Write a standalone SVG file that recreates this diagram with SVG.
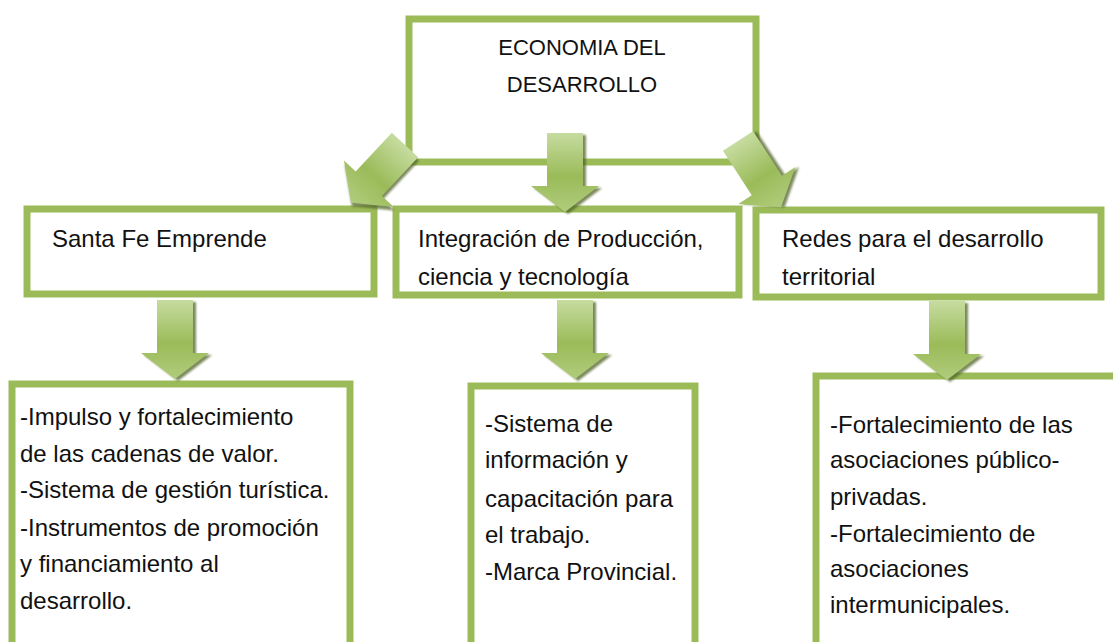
<svg xmlns="http://www.w3.org/2000/svg" width="1113" height="642" viewBox="0 0 1113 642">
  <style>
    .box { fill: #ffffff; stroke: #9bbb59; stroke-width: 7; }
    .t { font-family: "Liberation Sans", Arial, sans-serif; font-size: 24px; fill: #111111; }
    .title { font-family: "Liberation Sans", Arial, sans-serif; font-size: 22px; fill: #111111; text-anchor: middle; }
    .arrow { fill: url(#ag); }
    .shadow { fill: #4f6228; opacity: 0.75; filter: url(#blur); }
  </style>
  <defs>
    <linearGradient id="ag" x1="0" y1="0" x2="0" y2="1">
      <stop offset="0" stop-color="#c6dca0"/>
      <stop offset="0.55" stop-color="#9bbb59"/>
      <stop offset="1" stop-color="#b0cc7c"/>
    </linearGradient>
    <filter id="blur" x="-20%" y="-20%" width="140%" height="140%">
      <feGaussianBlur stdDeviation="1"/>
    </filter>
    <path id="arr" d="M-18,0 H18 V53 H34 L0,79 L-34,53 H-18 Z"/>
  </defs>

  <rect width="1113" height="642" fill="#ffffff"/>

  <g id="node-economia">
    <rect class="box" x="409" y="19" width="347" height="143"/>
    <text class="title" x="582" y="55">ECONOMIA DEL</text>
    <text class="title" x="582" y="92">DESARROLLO</text>
  </g>

  <g id="node-santafe">
    <rect class="box" x="27" y="209" width="347" height="85"/>
    <text class="t" x="52" y="247">Santa Fe Emprende</text>
  </g>

  <g id="node-integracion">
    <rect class="box" x="396" y="209" width="343" height="86"/>
    <text class="t" x="418" y="247">Integración de Producción,</text>
    <text class="t" x="418" y="285">ciencia y tecnología</text>
  </g>

  <g id="node-redes">
    <rect class="box" x="756" y="210" width="345" height="87"/>
    <text class="t" x="782" y="247">Redes para el desarrollo</text>
    <text class="t" x="782" y="285">territorial</text>
  </g>

  <g id="node-santafe-items">
    <rect class="box" x="12" y="384" width="338" height="290"/>
    <text class="t" x="20" y="425">-Impulso y fortalecimiento</text>
    <text class="t" x="20" y="462">de las cadenas de valor.</text>
    <text class="t" x="20" y="498">-Sistema de gestión turística.</text>
    <text class="t" x="20" y="536">-Instrumentos de promoción</text>
    <text class="t" x="20" y="572">y financiamiento al</text>
    <text class="t" x="20" y="609">desarrollo.</text>
  </g>

  <g id="node-integracion-items">
    <rect class="box" x="471" y="386" width="224" height="290"/>
    <text class="t" x="485" y="432">-Sistema de</text>
    <text class="t" x="485" y="468">información y</text>
    <text class="t" x="485" y="507">capacitación para</text>
    <text class="t" x="485" y="543">el trabajo.</text>
    <text class="t" x="485" y="580">-Marca Provincial.</text>
  </g>

  <g id="node-redes-items">
    <rect class="box" x="816" y="376" width="310" height="300"/>
    <text class="t" x="830" y="433">-Fortalecimiento de las</text>
    <text class="t" x="830" y="468">asociaciones público-</text>
    <text class="t" x="830" y="505">privadas.</text>
    <text class="t" x="830" y="542">-Fortalecimiento de</text>
    <text class="t" x="830" y="577">asociaciones</text>
    <text class="t" x="830" y="613">intermunicipales.</text>
  </g>

  <g id="connectors">
    <g transform="translate(405,145) rotate(43)">
      <use href="#arr" class="shadow" transform="translate(3,2)"/>
      <use href="#arr" class="arrow"/>
    </g>
    <g transform="translate(565,133)">
      <use href="#arr" class="shadow" transform="translate(3,2)"/>
      <use href="#arr" class="arrow"/>
    </g>
    <g transform="translate(738,141) rotate(-33)">
      <use href="#arr" class="shadow" transform="translate(3,2)"/>
      <use href="#arr" class="arrow"/>
    </g>
    <g transform="translate(175,300)">
      <use href="#arr" class="shadow" transform="translate(3,2)"/>
      <use href="#arr" class="arrow"/>
    </g>
    <g transform="translate(575,300)">
      <use href="#arr" class="shadow" transform="translate(3,2)"/>
      <use href="#arr" class="arrow"/>
    </g>
    <g transform="translate(947,301)">
      <use href="#arr" class="shadow" transform="translate(3,2)"/>
      <use href="#arr" class="arrow"/>
    </g>
  </g>
</svg>
